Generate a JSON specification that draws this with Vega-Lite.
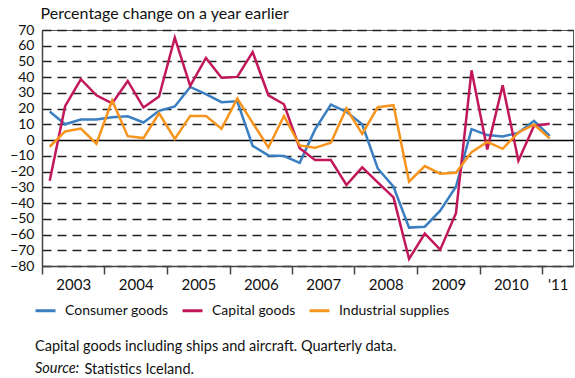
{
  "$schema": "https://vega.github.io/schema/vega-lite/v6.json",
  "width": 531,
  "height": 236,
  "autosize": {"type": "none"},
  "padding": {"left": 42, "top": 30, "right": 2, "bottom": 112},
  "background": "white",
  "config": {
    "font": "Lato",
    "view": {"stroke": "#555", "strokeWidth": 1}
  },
  "title": {
    "text": "Capital goods including ships and aircraft. Quarterly data.",
    "subtitle": "Source:",
    "orient": "bottom",
    "anchor": "start",
    "frame": "group",
    "dx": -7,
    "offset": -36,
    "font": "Lato",
    "fontSize": 14.5,
    "fontWeight": "normal",
    "color": "#111",
    "subtitleFont": "Lato",
    "subtitleFontSize": 14.5,
    "subtitleFontStyle": "italic",
    "subtitleColor": "#111",
    "subtitlePadding": 8
  },
  "data": {
    "values": [
      {"date": "2003-02-15", "Consumer goods": 18.2, "Capital goods": -25.8, "Industrial supplies": -4.2},
      {"date": "2003-05-16", "Consumer goods": 10.1, "Capital goods": 21.6, "Industrial supplies": 5.5},
      {"date": "2003-08-16", "Consumer goods": 13.1, "Capital goods": 38.7, "Industrial supplies": 7.4},
      {"date": "2003-11-15", "Consumer goods": 13.1, "Capital goods": 28.5, "Industrial supplies": -2.3},
      {"date": "2004-02-15", "Consumer goods": 14.6, "Capital goods": 23.3, "Industrial supplies": 25.2},
      {"date": "2004-05-16", "Consumer goods": 15.2, "Capital goods": 37.6, "Industrial supplies": 2.5},
      {"date": "2004-08-16", "Consumer goods": 11.2, "Capital goods": 20.7, "Industrial supplies": 1.3},
      {"date": "2004-11-15", "Consumer goods": 18.6, "Capital goods": 27.7, "Industrial supplies": 17.1},
      {"date": "2005-02-15", "Consumer goods": 21.4, "Capital goods": 65.1, "Industrial supplies": 0.8},
      {"date": "2005-05-16", "Consumer goods": 33.8, "Capital goods": 34.5, "Industrial supplies": 15.4},
      {"date": "2005-08-16", "Consumer goods": 29.2, "Capital goods": 52.2, "Industrial supplies": 15.4},
      {"date": "2005-11-15", "Consumer goods": 24.1, "Capital goods": 39.7, "Industrial supplies": 7.2},
      {"date": "2006-02-15", "Consumer goods": 24.7, "Capital goods": 40.2, "Industrial supplies": 26.4},
      {"date": "2006-05-16", "Consumer goods": -3.6, "Capital goods": 56.0, "Industrial supplies": 11.0},
      {"date": "2006-08-16", "Consumer goods": -9.7, "Capital goods": 28.5, "Industrial supplies": -4.7},
      {"date": "2006-11-15", "Consumer goods": -10.1, "Capital goods": 22.8, "Industrial supplies": 15.4},
      {"date": "2007-02-15", "Consumer goods": -14.4, "Capital goods": -5.1, "Industrial supplies": -3.4},
      {"date": "2007-05-16", "Consumer goods": 6.8, "Capital goods": -12.7, "Industrial supplies": -4.9},
      {"date": "2007-08-16", "Consumer goods": 22.6, "Capital goods": -12.7, "Industrial supplies": -1.7},
      {"date": "2007-11-15", "Consumer goods": 18.0, "Capital goods": -28.5, "Industrial supplies": 20.1},
      {"date": "2008-02-15", "Consumer goods": 10.1, "Capital goods": -17.3, "Industrial supplies": 4.0},
      {"date": "2008-05-16", "Consumer goods": -18.0, "Capital goods": -26.8, "Industrial supplies": 20.9},
      {"date": "2008-08-16", "Consumer goods": -29.6, "Capital goods": -36.4, "Industrial supplies": 22.2},
      {"date": "2008-11-15", "Consumer goods": -55.6, "Capital goods": -75.5, "Industrial supplies": -26.4},
      {"date": "2009-02-15", "Consumer goods": -55.0, "Capital goods": -59.4, "Industrial supplies": -16.5},
      {"date": "2009-05-16", "Consumer goods": -44.8, "Capital goods": -69.6, "Industrial supplies": -21.3},
      {"date": "2009-08-16", "Consumer goods": -29.6, "Capital goods": -46.5, "Industrial supplies": -20.7},
      {"date": "2009-11-15", "Consumer goods": 7.0, "Capital goods": 44.4, "Industrial supplies": -7.6},
      {"date": "2010-02-15", "Consumer goods": 3.2, "Capital goods": -5.9, "Industrial supplies": -1.1},
      {"date": "2010-05-16", "Consumer goods": 2.3, "Capital goods": 34.9, "Industrial supplies": -5.5},
      {"date": "2010-08-16", "Consumer goods": 4.7, "Capital goods": -13.1, "Industrial supplies": 4.9},
      {"date": "2010-11-15", "Consumer goods": 12.3, "Capital goods": 9.1, "Industrial supplies": 9.9},
      {"date": "2011-02-15", "Consumer goods": 2.7, "Capital goods": 10.4, "Industrial supplies": 1.1}
    ]
  },
  "transform": [
    {"fold": ["Consumer goods", "Capital goods", "Industrial supplies"], "as": ["series", "value"]}
  ],
  "mark": {"type": "line", "strokeWidth": 2.5, "clip": true},
  "encoding": {
    "x": {
      "field": "date",
      "type": "temporal",
      "scale": {"type": "utc", "domain": [{"year": 2003, "month": 1, "date": 1, "utc": true}, {"year": 2011, "month": 7, "date": 1, "utc": true}]},
      "axis": {
        "values": [
          {"year": 2003, "month": 1, "date": 1, "utc": true},
          {"year": 2004, "month": 1, "date": 1, "utc": true},
          {"year": 2005, "month": 1, "date": 1, "utc": true},
          {"year": 2006, "month": 1, "date": 1, "utc": true},
          {"year": 2007, "month": 1, "date": 1, "utc": true},
          {"year": 2008, "month": 1, "date": 1, "utc": true},
          {"year": 2009, "month": 1, "date": 1, "utc": true},
          {"year": 2010, "month": 1, "date": 1, "utc": true},
          {"year": 2011, "month": 1, "date": 1, "utc": true}
        ],
        "labelExpr": "utcyear(datum.value) == 2011 ? \"'11\" : utcFormat(datum.value, '%Y')",
        "labelOffset": {"condition": {"test": "utcyear(datum.value) == 2011", "value": 15.6}, "value": 31.25},
        "labelFont": "Lato",
        "labelFontSize": 15,
        "labelColor": "#111",
        "labelPadding": 3,
        "labelFlush": false,
        "labelOverlap": false,
        "tickSize": 8,
        "tickColor": "#444",
        "tickWidth": 1.5,
        "domainColor": "#444",
        "domainWidth": 1.5,
        "grid": false,
        "title": "Statistics Iceland.",
        "titleFont": "Lato",
        "titleFontSize": 14.5,
        "titleFontWeight": "normal",
        "titleColor": "#111",
        "titleAlign": "left",
        "titleBaseline": "alphabetic",
        "titleAnchor": "start",
        "titleX": 42,
        "titleY": 107
      }
    },
    "y": {
      "field": "value",
      "type": "quantitative",
      "scale": {"domain": [-80, 70], "nice": false, "zero": false},
      "axis": {
        "values": [-80, -70, -60, -50, -40, -30, -20, -10, 0, 10, 20, 30, 40, 50, 60, 70],
        "labelFont": "Lato",
        "labelFontSize": 14,
        "labelColor": "#111",
        "labelPadding": 8,
        "ticks": false,
        "domainColor": "#444",
        "domainWidth": 1.5,
        "grid": true,
        "gridColor": {"condition": {"test": "datum.value == 0", "value": "#000"}, "value": "#222"},
        "gridDash": {"condition": {"test": "datum.value == 0", "value": []}, "value": [9, 6]},
        "gridWidth": 1.3,
        "title": "Percentage change on a year earlier",
        "titleFont": "Lato",
        "titleFontSize": 16,
        "titleFontWeight": "normal",
        "titleColor": "#111",
        "titleAngle": 0,
        "titleAlign": "left",
        "titleBaseline": "alphabetic",
        "titleAnchor": "start",
        "titleX": -2,
        "titleY": -12
      }
    },
    "color": {
      "field": "series",
      "type": "nominal",
      "sort": ["Consumer goods", "Capital goods", "Industrial supplies"],
      "scale": {"domain": ["Consumer goods", "Capital goods", "Industrial supplies"], "range": ["#3a7fc1", "#c2185b", "#f7941d"]},
      "legend": {
        "orient": "none",
        "direction": "horizontal",
        "legendX": -8,
        "legendY": 269,
        "title": null,
        "symbolType": "stroke",
        "symbolSize": 400,
        "symbolStrokeWidth": 3,
        "labelFont": "Lato",
        "labelFontSize": 14,
        "labelColor": "#111",
        "labelOffset": 8,
        "columnPadding": 7
      }
    }
  }
}
